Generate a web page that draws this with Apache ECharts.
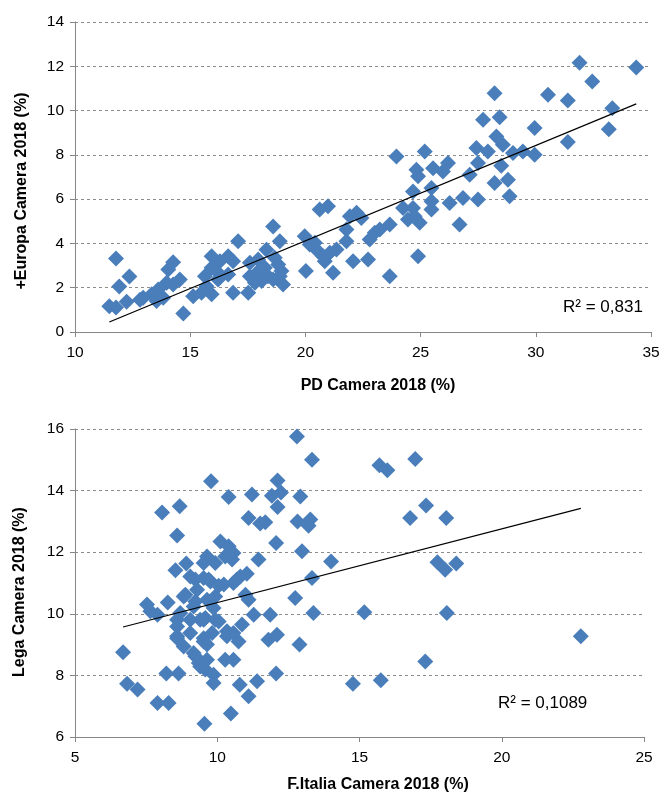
<!DOCTYPE html>
<html>
<head>
<meta charset="utf-8">
<script src="https://cdn.jsdelivr.net/npm/echarts@6/dist/echarts.min.js"></script>
<style>
  html, body { margin: 0; padding: 0; background: #fff; }
  #chart { width: 664px; height: 799px; }
</style>
</head>
<body>
<div id="chart"></div>
<script>
// top chart: PD vs +Europa
var pdX = [11.49, 11.78, 11.78, 11.92, 12.36, 12.24, 12.82, 12.96, 13.33, 13.54, 13.61, 13.83, 13.98, 14.05, 14.26,
  14.26, 14.55, 14.70, 15.13, 15.49, 15.93, 15.71, 15.64, 15.93, 15.93, 16.29, 16.14, 16.21, 16.65, 16.86,
  16.65, 16.86, 17.08, 17.52, 17.59, 17.59, 17.95, 17.88, 17.81, 18.31, 18.24, 18.38, 18.10, 18.60, 18.89,
  18.67, 18.82, 18.96, 18.60, 19.03, 18.89, 19.97, 20.02, 20.62, 20.98, 20.41, 20.55, 20.77, 21.06, 21.35,
  21.20, 21.78, 22.07, 21.93, 22.22, 22.43, 21.78, 22.72, 23.66, 22.79, 23.01, 23.23, 23.66, 23.95, 24.24,
  24.45, 24.67, 24.74, 24.96, 24.89, 24.67, 25.18, 24.82, 24.89, 25.47, 25.47, 25.47, 25.54, 25.97, 26.19,
  26.26, 26.69, 26.84, 27.13, 27.49, 27.42, 27.49, 27.92, 28.21, 28.29, 27.71, 28.21, 28.43, 28.57, 28.50,
  28.79, 28.86, 29.01, 29.44, 29.95, 29.95, 30.53, 31.39, 31.39, 31.90, 32.45, 33.32, 33.17, 34.36, 20.84,
  20.19];
var europaY = [1.16, 1.11, 3.32, 2.06, 2.51, 1.37, 1.46, 1.55, 1.70, 1.40, 1.92, 1.55, 2.22, 2.82, 3.15,
  2.15, 2.37, 0.84, 1.62, 1.77, 1.70, 2.07, 2.52, 2.90, 3.42, 3.20, 2.75, 2.37, 3.42, 3.20,
  2.60, 1.77, 4.10, 1.77, 3.13, 2.52, 3.27, 2.67, 2.22, 3.72, 2.90, 2.52, 2.30, 4.77, 4.10,
  3.35, 3.05, 2.75, 2.37, 2.15, 2.52, 4.32, 2.75, 5.53, 5.68, 4.03, 3.65, 3.42, 3.58, 3.73,
  2.68, 4.10, 3.20, 5.23, 5.38, 5.15, 4.63, 3.27, 2.52, 4.18, 4.48, 4.63, 4.85, 7.93, 5.60,
  5.08, 5.60, 5.23, 4.93, 3.42, 6.35, 8.15, 7.33, 7.03, 6.50, 5.90, 5.53, 7.40, 7.25, 7.63,
  5.83, 4.85, 6.05, 7.10, 5.98, 8.31, 7.63, 8.15, 6.73, 8.83, 9.58, 10.78, 9.70, 8.46, 7.51,
  6.88, 6.13, 8.08, 8.15, 8.00, 9.21, 10.71, 10.45, 8.58, 12.16, 11.31, 10.11, 9.16, 11.94, 3.20,
  3.95];

// bottom chart: F.Italia vs Lega
var fiX = [6.69, 6.83, 7.20, 7.90, 8.29, 8.21, 8.64, 8.06, 8.68, 8.59, 7.53, 7.65, 7.90, 8.26, 8.53,
  8.91, 9.55, 9.78, 9.23, 9.52, 8.82, 8.70, 8.59, 8.59, 8.82, 9.05, 9.17, 9.35, 9.17, 9.40,
  9.52, 9.58, 9.05, 12.80, 13.33, 10.40, 11.22, 11.92, 12.12, 12.24, 12.12, 12.92, 11.10, 11.51, 11.69,
  12.82, 13.27, 13.21, 12.07, 12.98, 14.00, 11.45, 10.11, 10.40, 10.57, 10.52, 10.28, 9.64, 9.93, 9.52,
  9.76, 10.05, 10.57, 10.81, 11.04, 10.99, 11.10, 13.33, 12.74, 13.38, 9.64, 9.93, 9.87, 11.28, 11.86,
  10.87, 9.58, 10.05, 10.34, 10.57, 10.75, 11.80, 12.10, 12.89, 9.82, 9.52, 9.64, 10.28, 10.57, 9.87,
  10.79, 11.40, 12.07, 11.10, 10.48, 15.70, 15.98, 16.96, 17.34, 16.78, 18.05, 17.74, 18.01, 18.40, 15.17,
  18.07, 22.78, 17.31, 14.77, 15.75, 9.29, 9.05, 10.46, 9.70, 10.23, 10.69, 8.88, 9.23, 9.76, 8.59,
  9.52, 9.93, 8.59, 10.34, 9.23, 9.64, 9.40, 9.87];
var legaY = [8.75, 7.73, 7.54, 7.10, 7.10, 8.06, 8.06, 13.29, 13.49, 12.54, 10.30, 10.08, 9.97, 10.37, 11.41,
  11.63, 6.43, 14.30, 11.11, 11.65, 10.56, 10.03, 9.59, 9.21, 8.94, 9.38, 8.73, 8.40, 10.24, 9.81,
  9.21, 8.19, 9.81, 15.76, 15.00, 13.79, 13.87, 13.83, 14.33, 13.94, 13.47, 13.81, 13.11, 12.93, 12.97,
  13.00, 13.06, 12.86, 12.30, 12.03, 11.70, 11.76, 12.35, 12.19, 11.97, 11.76, 11.86, 11.86, 11.65, 11.16,
  11.05, 10.91, 11.00, 11.21, 11.30, 10.62, 10.46, 11.16, 10.51, 10.03, 10.46, 10.56, 10.19, 9.97, 9.97,
  9.65, 9.86, 9.75, 9.43, 9.38, 9.10, 9.16, 9.32, 9.00, 9.38, 9.10, 8.51, 8.51, 8.51, 7.75,
  7.70, 7.81, 8.06, 7.32, 6.76, 14.82, 14.66, 15.03, 13.52, 13.11, 13.11, 11.67, 11.43, 11.63, 10.05,
  10.03, 9.27, 8.45, 7.73, 7.84, 10.78, 11.21, 12.03, 11.11, 10.95, 11.11, 10.62, 10.40, 10.40, 9.81,
  9.81, 9.81, 9.27, 9.27, 8.62, 9.00, 8.29, 8.02];

var topTitleX = 'PD Camera 2018 (%)';
var topTitleY = '+Europa Camera 2018 (%)';
var botTitleX = 'F.Italia Camera 2018 (%)';
var botTitleY = 'Lega Camera 2018 (%)';
var topR2 = 'R² = 0,831';
var botR2 = 'R² = 0,1089';

function pairs(xs, ys) {
  var out = [];
  for (var i = 0; i < xs.length; i++) out.push([xs[i], ys[i]]);
  return out;
}

// least squares line over the x range of the data
function trend(xs, ys) {
  var n = xs.length, sx = 0, sy = 0, sxx = 0, sxy = 0;
  for (var i = 0; i < n; i++) {
    sx += xs[i]; sy += ys[i]; sxx += xs[i] * xs[i]; sxy += xs[i] * ys[i];
  }
  var b = (n * sxy - sx * sy) / (n * sxx - sx * sx);
  var a = (sy - b * sx) / n;
  var lo = Math.min.apply(null, xs), hi = Math.max.apply(null, xs);
  return [[lo, a + b * lo], [hi, a + b * hi]];
}

var FONT = '"Liberation Sans", Arial, sans-serif';
var AXIS_GREY = '#868686';
var BLUE = '#4A7EBB';

function xAx(grid, min, max) {
  return {
    type: 'value', gridIndex: grid, min: min, max: max, interval: 5,
    axisLine: { show: true, onZero: false, lineStyle: { color: AXIS_GREY, width: 1 } },
    axisTick: { show: true, length: 5, lineStyle: { color: AXIS_GREY } },
    axisLabel: { color: '#000', fontSize: 15.5, fontFamily: FONT, margin: 13 },
    splitLine: { show: false }
  };
}
function yAx(grid, min, max) {
  return {
    type: 'value', gridIndex: grid, min: min, max: max, interval: 2,
    axisLine: { show: true, onZero: false, lineStyle: { color: AXIS_GREY, width: 1 } },
    axisTick: { show: true, length: 5, lineStyle: { color: AXIS_GREY } },
    axisLabel: { color: '#000', fontSize: 15.5, fontFamily: FONT, margin: 11 },
    splitLine: { show: true, lineStyle: { color: '#8c8c8c', width: 1, type: [3, 3] } }
  };
}
function titleText(txt, x, y, rot) {
  return {
    type: 'text', x: x, y: y, rotation: rot || 0,
    style: { text: txt, fill: '#000', font: 'bold 16px ' + FONT, textAlign: 'center', textVerticalAlign: 'middle' }
  };
}

var chart = echarts.init(document.getElementById('chart'), null, { renderer: 'canvas' });
chart.setOption({
  animation: false,
  backgroundColor: '#fff',
  grid: [
    { left: 75, top: 22, width: 576, height: 310 },
    { left: 75, top: 429, width: 569, height: 308 }
  ],
  xAxis: [xAx(0, 10, 35), xAx(1, 5, 25)],
  yAxis: [yAx(0, 0, 14), yAx(1, 6, 16)],
  series: [
    { type: 'scatter', xAxisIndex: 0, yAxisIndex: 0, data: pairs(pdX, europaY),
      symbol: 'diamond', symbolSize: 16, itemStyle: { color: BLUE, opacity: 1 }, z: 2 },
    { type: 'line', xAxisIndex: 0, yAxisIndex: 0, data: trend(pdX, europaY),
      symbol: 'none', lineStyle: { color: '#000', width: 1.2 }, z: 5 },
    { type: 'scatter', xAxisIndex: 1, yAxisIndex: 1, data: pairs(fiX, legaY),
      symbol: 'diamond', symbolSize: 16, itemStyle: { color: BLUE, opacity: 1 }, z: 2 },
    { type: 'line', xAxisIndex: 1, yAxisIndex: 1, data: trend(fiX, legaY),
      symbol: 'none', lineStyle: { color: '#000', width: 1.2 }, z: 5 }
  ],
  graphic: [
    titleText(topTitleX, 378, 386),
    titleText(topTitleY, 22, 191, Math.PI / 2),
    titleText(botTitleX, 378, 785),
    titleText(botTitleY, 20, 592, Math.PI / 2),
    { type: 'text', x: 563, y: 307,
      style: { text: topR2, fill: '#000', font: '17px ' + FONT, textVerticalAlign: 'middle' } },
    { type: 'text', x: 498, y: 703,
      style: { text: botR2, fill: '#000', font: '17px ' + FONT, textVerticalAlign: 'middle' } }
  ]
});
</script>
</body>
</html>
